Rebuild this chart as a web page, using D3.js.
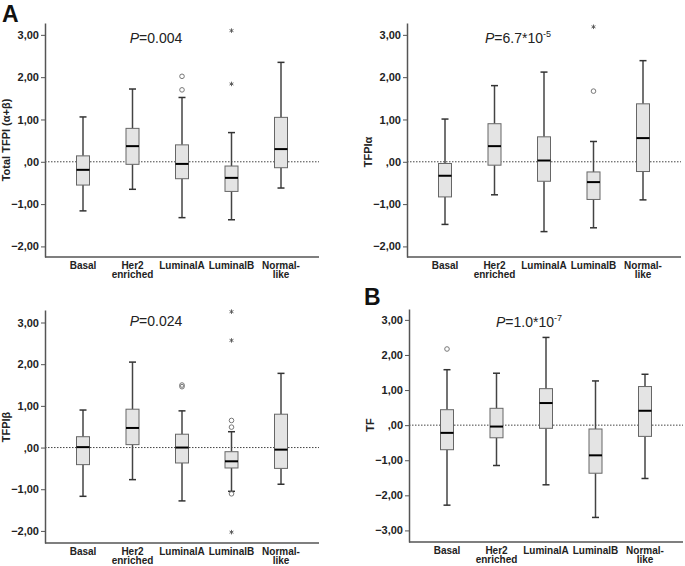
<!DOCTYPE html>
<html lang="en">
<head>
<meta charset="UTF-8">
<title>TFPI / TF by subtype</title>
<script src="https://cdn.jsdelivr.net/npm/d3@7"></script>
<style>
    body { margin: 0; background: #fff; }
    svg { display: block; font-family: "Liberation Sans", Arial, sans-serif; }
    .tick text { font-weight: bold; font-size: 11px; fill: #222; }
    .cat { font-weight: bold; font-size: 10px; fill: #222; }
    .ylab { font-weight: bold; font-size: 11px; fill: #222; }
    .pval { font-size: 14px; fill: #222; }
    .letter { font-weight: bold; font-size: 23px; fill: #111; }
</style>
</head>
<body>
<svg id="chart" width="685" height="566"></svg>
<script>
// subtype groups
const groups = ["Basal", "Her2 enriched", "LuminalA", "LuminalB", "Normal-like"];
const groupLines = [["Basal"], ["Her2", "enriched"], ["LuminalA"], ["LuminalB"], ["Normal-", "like"]];

// box stats per group: [lower whisker, Q1, median, Q3, upper whisker]
const totalBoxes = [
    [-1.16, -0.55, -0.19, 0.14, 1.06],
    [-0.65, -0.06, 0.37, 0.79, 1.72],
    [-1.32, -0.40, -0.05, 0.40, 1.52],
    [-1.37, -0.70, -0.38, -0.10, 0.69],
    [-0.62, -0.14, 0.30, 1.05, 2.35]
];
const totalCircles = [[], [], [1.70, 2.02], [], []];
const totalStars = [[], [], [], [1.84, 3.10], []];

const alphaBoxes = [
    [-1.48, -0.83, -0.33, -0.04, 1.01],
    [-0.78, -0.08, 0.37, 0.90, 1.80],
    [-1.65, -0.46, 0.03, 0.59, 2.12],
    [-1.56, -0.89, -0.48, -0.24, 0.48],
    [-0.90, -0.23, 0.56, 1.37, 2.39]
];
const alphaCircles = [[], [], [], [1.67], []];
const alphaStars = [[], [], [], [3.19], []];

const betaBoxes = [
    [-1.17, -0.41, 0.01, 0.26, 0.90],
    [-0.77, 0.07, 0.47, 0.92, 2.05],
    [-1.28, -0.37, 0.00, 0.32, 0.88],
    [-1.05, -0.49, -0.33, -0.10, 0.38],
    [-0.88, -0.50, -0.05, 0.80, 1.78]
];
const betaCircles = [[], [], [1.46, 1.50], [0.49, 0.65, -1.11], []];
const betaStars = [[], [], [], [3.26, 2.57, -2.03], []];

const tfBoxes = [
    [-2.28, -0.70, -0.22, 0.44, 1.58],
    [-1.15, -0.36, -0.04, 0.48, 1.48],
    [-1.70, -0.09, 0.63, 1.04, 2.50],
    [-2.63, -1.37, -0.86, -0.11, 1.26],
    [-1.52, -0.32, 0.41, 1.10, 1.45]
];
const tfCircles = [[2.17], [], [], [], []];
const tfStars = [[], [], [], [], []];

const ticksABC = [-2, -1, 0, 1, 2, 3];
const ticksD = [-3, -2, -1, 0, 1, 2, 3];

const svg = d3.select("#chart");
const fmt = v => v === 0 ? ",00" : d3.format(".2f")(v).replace(".", ",");

const panels = [
    { ax: 45, top: 23, bottom: 257, dom: [-2.25, 3.28], ticks: ticksABC, label: "Total TFPI (\u03b1+\u03b2)", labX: 10, labY: 140,
      boxes: totalBoxes, circles: totalCircles, stars: totalStars, p: ["0.004"], px: 156, py: 43, letter: "A", lx: 2, ly: 22 },
    { ax: 407, top: 23, bottom: 257, dom: [-2.25, 3.28], ticks: ticksABC, label: "TFPI\u03b1", labX: 372, labY: 152,
      boxes: alphaBoxes, circles: alphaCircles, stars: alphaStars, p: ["6.7*10", "-5"], px: 518, py: 43 },
    { ax: 45, top: 310, bottom: 543, dom: [-2.29, 3.30], ticks: ticksABC, label: "TFPI\u03b2", labX: 10, labY: 427,
      boxes: betaBoxes, circles: betaCircles, stars: betaStars, p: ["0.024"], px: 156, py: 326 },
    { ax: 409, top: 309, bottom: 542, dom: [-3.33, 3.31], ticks: ticksD, label: "TF", labX: 374, labY: 425,
      boxes: tfBoxes, circles: tfCircles, stars: tfStars, p: ["1.0*10", "-7"], px: 529, py: 327, letter: "B", lx: 364, ly: 305 }
];

panels.forEach(pn => {
    const g = svg.append("g");
    const y = d3.scaleLinear().domain(pn.dom).range([pn.bottom, pn.top]);
    const x = d3.scalePoint().domain(groups).range([pn.ax + 38, pn.ax + 236]);
    const right = pn.ax + 274;

    // zero reference line
    g.append("line")
        .attr("x1", pn.ax).attr("x2", right)
        .attr("y1", y(0)).attr("y2", y(0))
        .attr("stroke", "#444").attr("stroke-width", 1)
        .attr("stroke-dasharray", "1.5,1.5");

    // y axis
    const yAxis = g.append("g")
        .attr("transform", `translate(${pn.ax},0)`)
        .call(d3.axisLeft(y).tickValues(pn.ticks).tickFormat(fmt).tickSize(4).tickPadding(2).tickSizeOuter(0));
    yAxis.select(".domain").attr("stroke", "#555").attr("stroke-width", 1.5);
    yAxis.selectAll(".tick line").attr("stroke", "#555");

    // x axis line
    g.append("line")
        .attr("x1", pn.ax).attr("x2", right)
        .attr("y1", pn.bottom).attr("y2", pn.bottom)
        .attr("stroke", "#555").attr("stroke-width", 1.5);

    groupLines.forEach((lines, i) => {
        const t = g.append("text").attr("class", "cat")
            .attr("text-anchor", "middle")
            .attr("x", x(groups[i]))
            .attr("y", pn.bottom + 11.5);
        lines.forEach((ln, j) => {
            t.append("tspan").attr("x", x(groups[i])).attr("dy", j === 0 ? 0 : 9.5).text(ln);
        });
    });

    // y label
    g.append("text").attr("class", "ylab")
        .attr("text-anchor", "middle")
        .attr("transform", `translate(${pn.labX},${pn.labY}) rotate(-90)`)
        .text(pn.label);

    const bw = 13, cw = 7;
    pn.boxes.forEach((b, i) => {
        const cx = x(groups[i]);
        const [lo, q1, med, q3, hi] = b;
        // whiskers
        g.append("line").attr("x1", cx).attr("x2", cx).attr("y1", y(hi)).attr("y2", y(q3))
            .attr("stroke", "#444").attr("stroke-width", 1.5);
        g.append("line").attr("x1", cx).attr("x2", cx).attr("y1", y(q1)).attr("y2", y(lo))
            .attr("stroke", "#444").attr("stroke-width", 1.5);
        [lo, hi].forEach(v => {
            g.append("line").attr("x1", cx - cw / 2).attr("x2", cx + cw / 2)
                .attr("y1", y(v)).attr("y2", y(v))
                .attr("stroke", "#333").attr("stroke-width", 1.5);
        });
        g.append("rect")
            .attr("x", cx - bw / 2).attr("width", bw)
            .attr("y", y(q3)).attr("height", y(q1) - y(q3))
            .attr("fill", "#e4e4e4").attr("stroke", "#666").attr("stroke-width", 1);
        g.append("line").attr("x1", cx - bw / 2).attr("x2", cx + bw / 2)
            .attr("y1", y(med)).attr("y2", y(med))
            .attr("stroke", "#000").attr("stroke-width", 2);

        pn.circles[i].forEach(v => {
            g.append("circle").attr("cx", cx).attr("cy", y(v)).attr("r", 2.3)
                .attr("fill", "none").attr("stroke", "#777").attr("stroke-width", 1);
        });
        pn.stars[i].forEach(v => {
            g.append("path")
                .attr("transform", `translate(${cx},${y(v)})`)
                .attr("d", d3.symbol(d3.symbolAsterisk, 14)())
                .attr("fill", "none").attr("stroke", "#555").attr("stroke-width", 0.9);
        });
    });

    // p value
    const pt = g.append("text").attr("class", "pval")
        .attr("text-anchor", "middle")
        .attr("x", pn.px).attr("y", pn.py);
    pt.append("tspan").attr("font-style", "italic").text("P");
    pt.append("tspan").text("=" + pn.p[0]);
    if (pn.p[1]) pt.append("tspan").attr("font-size", "9px").attr("dy", -6).text(pn.p[1]);

    if (pn.letter) {
        g.append("text").attr("class", "letter").attr("x", pn.lx).attr("y", pn.ly).text(pn.letter);
    }
});
</script>
</body>
</html>
